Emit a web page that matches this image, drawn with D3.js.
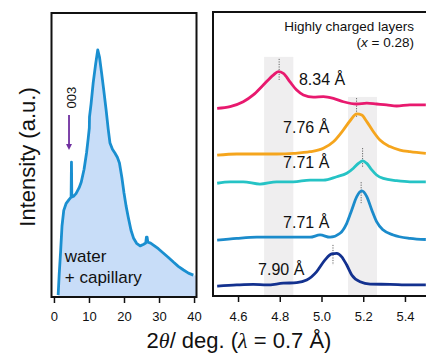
<!DOCTYPE html>
<html>
<head>
<meta charset="utf-8">
<script src="https://d3js.org/d3.v7.min.js"></script>
<style>
  body { margin: 0; background: #fff; }
  svg { display: block; font-family: "Liberation Sans", Arial, sans-serif; }
  .axis path { display: none; }
  .axis line { stroke: #111; stroke-width: 1.5; }
  .axis text { font-size: 13px; fill: #111; }
</style>
</head>
<body>
<div id="chart"></div>
<script>
// ---- data ----
// left panel: 2theta (deg) vs intensity (a.u., 0-100)
var waterTheta = [1.2, 1.5, 1.9, 2.3, 2.8, 3.5, 4.3, 4.9, 5.0, 5.1, 5.6, 6.3, 7.2, 7.8, 8.6, 9.3, 9.8, 10.1, 10.15, 10.6, 11.2, 11.9, 12.5, 13.0, 13.6, 14.2, 14.9, 15.5, 16.0, 16.7, 17.4, 18.1, 18.7, 19.4, 20.0, 20.6, 21.2, 22.0, 22.7, 23.6, 24.6, 25.5, 26.2, 26.4, 26.6, 26.8, 27.6, 28.4, 29.8, 31.2, 32.6, 34.1, 35.5, 37.0, 38.4, 39.8];
var waterInt = [0.7, 8, 16, 25, 30.5, 33, 34.3, 35.2, 47.5, 35.2, 35.5, 36.4, 38.5, 40.5, 45, 50.7, 56, 59.5, 63.4, 68, 75.4, 82, 87.0, 84.5, 78.9, 73, 65.8, 59, 54.2, 52, 50.7, 49.2, 47.2, 42, 36.6, 32, 28.2, 23.5, 20.8, 18.9, 18.0, 18.5, 19.0, 21.1, 21.1, 19.3, 19.0, 18.3, 17.0, 15.5, 14.0, 12.3, 10.8, 9.5, 8.4, 7.7];

// right panel: five stacked patterns
var seriesNames = ["8.34 Å", "7.76 Å", "7.71 Å", "7.71 Å", "7.90 Å"];
var seriesColors = ["#e8196e", "#f5a51d", "#25c3c5", "#1b8bcb", "#13318f"];

var pinkX = [4.50, 4.562, 4.625, 4.673, 4.721, 4.769, 4.793, 4.817, 4.849, 4.881, 4.913, 4.961, 5.009, 5.057, 5.105, 5.169, 5.217, 5.264, 5.312, 5.360, 5.424, 5.50];
var pinkY = [66.1, 66.7, 68.4, 70.8, 74.3, 77.8, 79.0, 78.4, 75.4, 72.5, 70.8, 70.0, 70.2, 69.6, 68.4, 67.6, 67.9, 67.6, 67.3, 66.9, 67.3, 67.3];

var orangeX = [4.50, 4.594, 4.690, 4.785, 4.865, 4.945, 5.009, 5.057, 5.105, 5.137, 5.169, 5.193, 5.217, 5.248, 5.280, 5.328, 5.376, 5.424, 5.50];
var orangeY = [49.6, 50.0, 50.0, 50.0, 50.2, 50.8, 52.0, 54.3, 58.5, 61.7, 64.1, 63.7, 61.4, 57.9, 54.9, 52.6, 51.4, 50.8, 50.2];

var cyanX = [4.50, 4.562, 4.625, 4.705, 4.785, 4.865, 4.945, 5.009, 5.073, 5.121, 5.153, 5.177, 5.198, 5.217, 5.241, 5.264, 5.296, 5.360, 5.424, 5.50];
var cyanY = [39.7, 40.2, 40.2, 39.4, 40.2, 40.2, 40.8, 40.8, 42.0, 43.2, 45.0, 46.7, 47.6, 46.7, 44.4, 42.6, 41.4, 40.6, 40.2, 40.2];

var blueX = [4.50, 4.594, 4.690, 4.785, 4.865, 4.945, 4.993, 5.041, 5.089, 5.121, 5.145, 5.169, 5.193, 5.217, 5.241, 5.264, 5.296, 5.344, 5.424, 5.50];
var blueY = [19.7, 20.3, 20.7, 20.7, 20.7, 20.7, 21.5, 20.7, 22.1, 25.6, 30.3, 35.0, 37.0, 35.0, 30.3, 26.2, 23.2, 21.5, 20.3, 19.9];

var navyX = [4.50, 4.594, 4.673, 4.737, 4.817, 4.881, 4.929, 4.977, 5.017, 5.049, 5.073, 5.097, 5.121, 5.145, 5.185, 5.233, 5.328, 5.424, 5.50];
var navyY = [3.5, 3.9, 4.1, 3.9, 4.5, 4.7, 5.6, 8.6, 12.7, 14.8, 15.0, 13.8, 10.9, 7.4, 5.0, 4.2, 4.1, 3.9, 3.9];

// peak position and dotted marker extent (top, bottom) for each series
var peakPos = [4.797, 5.168, 5.197, 5.190, 5.055];
var peakTop = [83.5, 69.7, 52.1, 40.1, 18.0];
var peakBottom = [76.1, 62.7, 45.4, 32.7, 10.9];

// shaded bands: [from, to, top]
var bandFrom = [4.725, 5.127];
var bandTo = [4.865, 5.266];
var bandTop = [84.2, 70.1];

var leftTicks = [0, 10, 20, 30, 40];
var rightTicks = [4.6, 4.8, 5.0, 5.2, 5.4];

// ---- drawing ----
var W = 426, H = 353;
var svg = d3.select("#chart").append("svg")
    .attr("width", W).attr("height", H);

// left panel scales
var xL = d3.scaleLinear().domain([-0.7, 40.7]).range([51.5, 196.5]);
var yL = d3.scaleLinear().domain([0, 100]).range([297, 13]);

// right panel scales
var xR = d3.scaleLinear().domain([4.48, 5.52]).range([213, 430]);
var yR = d3.scaleLinear().domain([0, 100]).range([296, 12]);

var water = waterTheta.map(function (t, i) { return { x: t, y: waterInt[i] }; });

svg.append("clipPath").attr("id", "clipL")
  .append("rect")
    .attr("x", xL(-0.7)).attr("y", yL(100))
    .attr("width", xL(40.7) - xL(-0.7)).attr("height", yL(0) - yL(100));

var gL = svg.append("g").attr("clip-path", "url(#clipL)");

var fillData = water.concat([{ x: 40.7, y: 7.5 }]);
gL.append("path")
    .datum(fillData)
    .attr("fill", "#c8ddf8")
    .attr("d", d3.area()
        .x(function (d) { return xL(d.x); })
        .y0(yL(0))
        .y1(function (d) { return yL(d.y); }));

gL.append("path")
    .datum(water)
    .attr("fill", "none")
    .attr("stroke", "#1a8fd0")
    .attr("stroke-width", 2.8)
    .attr("stroke-linejoin", "round")
    .attr("d", d3.line()
        .x(function (d) { return xL(d.x); })
        .y(function (d) { return yL(d.y); }));

// 003 arrow
svg.append("defs").append("marker")
    .attr("id", "arrowhead")
    .attr("viewBox", "0 0 10 10")
    .attr("refX", 2).attr("refY", 5)
    .attr("markerWidth", 3.4).attr("markerHeight", 3.4)
    .attr("orient", "auto")
  .append("path")
    .attr("d", "M0,0 L10,5 L0,10 Z")
    .attr("fill", "#7030a0");

svg.append("line")
    .attr("x1", xL(4.3)).attr("x2", xL(4.3))
    .attr("y1", yL(64.1)).attr("y2", yL(53.5))
    .attr("stroke", "#7030a0")
    .attr("stroke-width", 1.8)
    .attr("marker-end", "url(#arrowhead)");

svg.append("text")
    .attr("transform", "translate(" + xL(6.4) + "," + yL(70.2) + ") rotate(-90)")
    .attr("text-anchor", "middle")
    .attr("font-size", 13)
    .attr("fill", "#111")
    .text("003");

svg.append("text")
    .attr("x", xL(3.1)).attr("y", yL(12.3))
    .attr("font-size", 17).attr("fill", "#111")
    .text("water");
svg.append("text")
    .attr("x", xL(3.1)).attr("y", yL(4.9))
    .attr("font-size", 17).attr("fill", "#111")
    .text("+ capillary");

// left frame
svg.append("rect")
    .attr("x", xL(-0.7)).attr("y", yL(100))
    .attr("width", xL(40.7) - xL(-0.7)).attr("height", yL(0) - yL(100))
    .attr("fill", "none").attr("stroke", "#111").attr("stroke-width", 2);

svg.append("g")
    .attr("class", "axis")
    .attr("transform", "translate(0," + yL(0) + ")")
    .call(d3.axisBottom(xL).tickValues(leftTicks).tickSizeInner(6).tickSizeOuter(0).tickPadding(9));

// right panel
var gR = svg.append("g");

bandFrom.forEach(function (b, i) {
  gR.append("rect")
      .attr("x", xR(b)).attr("y", yR(bandTop[i]))
      .attr("width", xR(bandTo[i]) - xR(b))
      .attr("height", yR(0) - yR(bandTop[i]))
      .attr("fill", "#efeeef");
});

var allX = [pinkX, orangeX, cyanX, blueX, navyX];
var allY = [pinkY, orangeY, cyanY, blueY, navyY];

// dotted peak markers
peakPos.forEach(function (p, i) {
  gR.append("line")
      .attr("x1", xR(p)).attr("x2", xR(p))
      .attr("y1", yR(peakTop[i])).attr("y2", yR(peakBottom[i]))
      .attr("stroke", "#666")
      .attr("stroke-width", 1)
      .attr("stroke-dasharray", "1.2,1.3");
});

var lineR = d3.line()
    .curve(d3.curveMonotoneX)
    .x(function (d) { return xR(d[0]); })
    .y(function (d) { return yR(d[1]); });

allX.forEach(function (xs, i) {
  var pts = xs.map(function (v, j) { return [v, allY[i][j]]; });
  gR.append("path")
      .datum(pts)
      .attr("fill", "none")
      .attr("stroke", seriesColors[i])
      .attr("stroke-width", 2.8)
      .attr("stroke-linejoin", "round")
      .attr("d", lineR);
});

// peak labels (text anchor positions in data units)
var labelX = [4.892, 4.816, 4.816, 4.816, 4.696];
var labelY = [74.3, 57.4, 45.1, 23.9, 7.4];
seriesNames.forEach(function (n, i) {
  gR.append("text")
      .attr("x", xR(labelX[i])).attr("y", yR(labelY[i]))
      .attr("font-size", 16).attr("fill", "#111")
      .text(n);
});

// right frame
svg.append("rect")
    .attr("x", xR(4.48)).attr("y", yR(100))
    .attr("width", xR(5.52) - xR(4.48)).attr("height", yR(0) - yR(100))
    .attr("fill", "none").attr("stroke", "#111").attr("stroke-width", 2);

svg.append("g")
    .attr("class", "axis")
    .attr("transform", "translate(0," + yR(0) + ")")
    .call(d3.axisBottom(xR).tickValues(rightTicks).tickFormat(d3.format(".1f"))
        .tickSizeInner(6).tickSizeOuter(0).tickPadding(10));

svg.append("text")
    .attr("x", 414).attr("y", 31)
    .attr("text-anchor", "end")
    .attr("font-size", 13.5).attr("fill", "#111")
    .text("Highly charged layers");
var t2 = svg.append("text")
    .attr("x", 414).attr("y", 47)
    .attr("text-anchor", "end")
    .attr("font-size", 13.5).attr("fill", "#111");
t2.append("tspan").text("(");
t2.append("tspan").attr("font-style", "italic").text("x");
t2.append("tspan").text(" = 0.28)");

// axis titles
svg.append("text")
    .attr("transform", "translate(35,157) rotate(-90)")
    .attr("text-anchor", "middle")
    .attr("font-size", 22).attr("fill", "#111")
    .text("Intensity (a.u.)");

var xt = svg.append("text")
    .attr("x", 239).attr("y", 348)
    .attr("text-anchor", "middle")
    .attr("font-size", 22).attr("fill", "#111");
xt.append("tspan").text("2");
xt.append("tspan").attr("font-family", "Liberation Serif, serif").attr("font-style", "italic").text("θ");
xt.append("tspan").text("/ deg. (");
xt.append("tspan").attr("font-family", "Liberation Serif, serif").attr("font-style", "italic").text("λ");
xt.append("tspan").text(" = 0.7 Å)");
</script>
</body>
</html>
